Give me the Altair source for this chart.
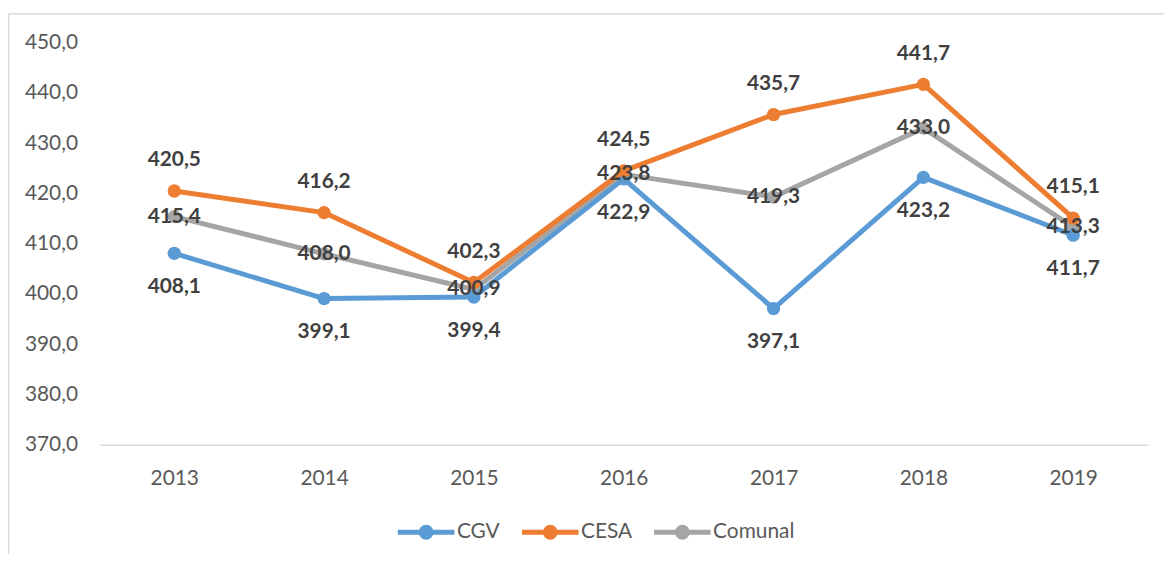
import altair as alt
import pandas as pd

years = ["2013", "2014", "2015", "2016", "2017", "2018", "2019"]
series = ["CGV", "CESA", "Comunal"]
cgv = [408.1, 399.1, 399.4, 422.9, 397.1, 423.2, 411.7]
cesa = [420.5, 416.2, 402.3, 424.5, 435.7, 441.7, 415.1]
comunal = [415.4, 408.0, 400.9, 423.8, 419.3, 433.0, 413.3]
colors = ["#5B9BD5", "#ED7D31", "#A5A5A5"]
y_ticks = [370, 380, 390, 400, 410, 420, 430, 440, 450]

rows = []
for name, vals in zip(series, [cgv, cesa, comunal]):
    for yr, v in zip(years, vals):
        rows.append({"year": yr, "serie": name, "value": v})
df = pd.DataFrame(rows)

FONT = "Lato"

color = alt.Color(
    "serie:N",
    scale=alt.Scale(domain=series, range=colors),
    sort=series,
    legend=alt.Legend(
        title=None,
        orient="none",
        direction="horizontal",
        legendX=298,
        legendY=462,
        symbolType="M-1,0L1,0M-0.175,0A0.175,0.175,0,1,1,0.175,0A0.175,0.175,0,1,1,-0.175,0ZM-0.07,0A0.07,0.07,0,1,1,0.07,0A0.07,0.07,0,1,1,-0.07,0Z",
        symbolSize=3249,
        symbolStrokeWidth=5,
        labelFont=FONT,
        labelFontSize=21,
        labelColor="#595959",
        labelOffset=0,
        columnPadding=11,
    ),
)

x = alt.X(
    "year:O",
    sort=years,
    title=None,
    scale=alt.Scale(padding=0.5),
    axis=alt.Axis(
        labelAngle=0,
        ticks=False,
        domainColor="#D9D9D9",
        domainWidth=1.5,
        labelFont=FONT,
        labelFontSize=21,
        labelColor="#595959",
        labelPadding=23,
        grid=False,
    ),
)
y = alt.Y(
    "value:Q",
    title=None,
    scale=alt.Scale(domain=[370, 450], nice=False, zero=False),
    axis=alt.Axis(
        values=y_ticks,
        labelExpr="replace(format(datum.value, '.1f'), '.', ',')",
        domain=False,
        ticks=False,
        grid=False,
        labelFont=FONT,
        labelFontSize=21,
        labelColor="#595959",
        labelPadding=22,
    ),
)

base = alt.Chart(df).encode(x=x, y=y)

lines = []
for s in ["Comunal", "CGV", "CESA"]:
    sub = base.transform_filter(alt.datum.serie == s)
    lines.append(sub.mark_line(strokeWidth=5, strokeCap="round", strokeJoin="round").encode(color=color))
    lines.append(sub.mark_point(filled=True, size=180, opacity=1).encode(color=color))

offsets = {"CGV": 34, "CESA": -31, "Comunal": 0}
texts = []
for s in series:
    texts.append(
        base.transform_filter(alt.datum.serie == s)
        .transform_calculate(lbl="replace(format(datum.value, '.1f'), '.', ',')")
        .mark_text(font=FONT, fontSize=21, fontWeight="bold", color="#404040", dy=offsets[s], baseline="middle")
        .encode(text="lbl:N")
    )

frame_src = alt.Chart(pd.DataFrame({"k": [0]}))
border_left = frame_src.mark_rule(stroke="#D9D9D9", strokeWidth=1.5, clip=False).encode(
    x=alt.value(-91.5), y=alt.value(-29), y2=alt.value(700)
)
border_top = frame_src.mark_rule(stroke="#D9D9D9", strokeWidth=1.5, clip=False).encode(
    x=alt.value(-91.5), x2=alt.value(1300), y=alt.value(-29)
)

chart = alt.layer(border_left, border_top, *lines, *texts).properties(
    width=1056,
    height=405,
    padding={"left": 92, "top": 33, "right": 16, "bottom": 108},
    autosize=alt.AutoSizeParams(type="none"),
).configure(background="white").configure_view(stroke=None)

chart.save("out.html", embed_options={"renderer": "svg", "actions": False})
